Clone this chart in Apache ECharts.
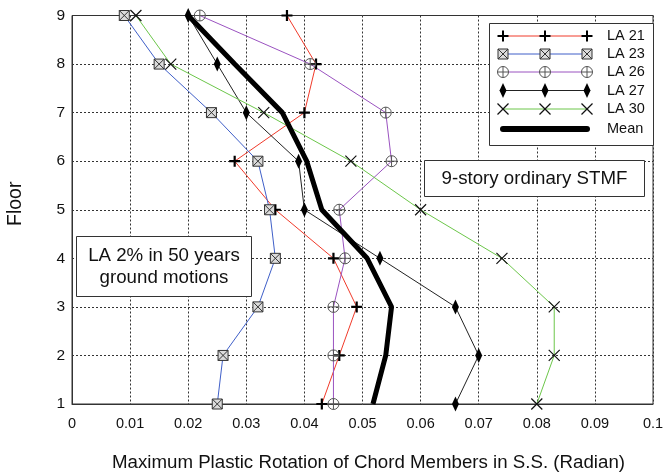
<!DOCTYPE html>
<html>
<head>
<meta charset="utf-8">
<script src="https://cdn.jsdelivr.net/npm/echarts@6/dist/echarts.min.js"></script>
<style>
  html, body { margin: 0; padding: 0; background: #fff; }
  #chart { width: 667px; height: 475px; }
</style>
</head>
<body>
<div id="chart"></div>
<script>
// Floor levels (y) and maximum plastic rotation per record (x, radian)
const floors = [1, 2, 3, 4, 5, 6, 7, 8, 9];
const la21 = [0.043, 0.046, 0.049, 0.045, 0.035, 0.028, 0.040, 0.042, 0.037];
const la23 = [0.025, 0.026, 0.032, 0.035, 0.034, 0.032, 0.024, 0.015, 0.009];
const la26 = [0.045, 0.045, 0.045, 0.047, 0.046, 0.055, 0.054, 0.041, 0.022];
const la27 = [0.066, 0.070, 0.066, 0.053, 0.040, 0.039, 0.030, 0.025, 0.020];
const la30 = [0.080, 0.083, 0.083, 0.074, 0.060, 0.048, 0.033, 0.017, 0.011];
const mean = [0.0518, 0.054, 0.055, 0.0508, 0.043, 0.0404, 0.0362, 0.028, 0.020];
const xTicks = ['0', '0.01', '0.02', '0.03', '0.04', '0.05', '0.06', '0.07', '0.08', '0.09', '0.1'];
const seriesNames = ['LA 21', 'LA 23', 'LA 26', 'LA 27', 'LA 30', 'Mean'];

const FONT = "'Liberation Sans', Arial, Helvetica, sans-serif";

// Marker glyphs
const SYM_PLUS = 'path://M4,0h2v4h4v2h-4v4h-2v-4h-4v-2h4z';
const SYM_BOXX = 'path://M0,0h10v10h-10zM0,0L10,10M10,0L0,10';
const SYM_CPLUS = 'path://M0,5A5,5 0 1 1 10,5A5,5 0 1 1 0,5ZM5,0V10M0,5H10';
const SYM_X = 'path://M0,0L10,10M10,0L0,10';

const styles = [
  { kind: 'plus', line: '#f03a2a', symbol: SYM_PLUS, size: 11, fill: '#000', stroke: '#000', bw: 0 },
  { kind: 'boxx', line: '#3f5fc8', symbol: SYM_BOXX, size: 10, fill: '#dcdcdc', stroke: '#333', bw: 1 },
  { kind: 'cplus', line: '#9a52c0', symbol: SYM_CPLUS, size: 11, fill: 'rgba(0,0,0,0)', stroke: '#555', bw: 1 },
  { kind: 'diamond', line: '#222', symbol: 'diamond', size: [7, 15], fill: '#000', stroke: '#000', bw: 0 },
  { kind: 'x', line: '#6cc64a', symbol: SYM_X, size: 11, fill: 'rgba(0,0,0,0)', stroke: '#111', bw: 1.2 }
];

const pairs = vals => vals.map((v, i) => [v, floors[i]]);
const records = [la21, la23, la26, la27, la30];

const series = records.map((vals, k) => ({
  name: seriesNames[k],
  type: 'line',
  data: pairs(vals),
  symbol: styles[k].symbol,
  symbolSize: styles[k].size,
  showSymbol: true,
  lineStyle: { color: styles[k].line, width: 1 },
  itemStyle: { color: styles[k].fill, borderColor: styles[k].stroke, borderWidth: styles[k].bw },
  emphasis: { disabled: true },
  animation: false
}));
series.push({
  name: seriesNames[5],
  type: 'line',
  data: pairs(mean),
  showSymbol: false,
  symbol: 'none',
  lineStyle: { color: '#000', width: 5 },
  emphasis: { disabled: true },
  animation: false
});

// Legend marker built from graphic primitives
function legendMarker(kind, cx, cy) {
  const s = 5;
  switch (kind) {
    case 'plus': return [
      { type: 'rect', shape: { x: cx - 5.5, y: cy - 1, width: 11, height: 2 }, style: { fill: '#000' } },
      { type: 'rect', shape: { x: cx - 1, y: cy - 5.5, width: 2, height: 11 }, style: { fill: '#000' } }
    ];
    case 'boxx': return [
      { type: 'rect', shape: { x: cx - s, y: cy - s, width: 2 * s, height: 2 * s }, style: { fill: '#dcdcdc', stroke: '#333', lineWidth: 1 } },
      { type: 'line', shape: { x1: cx - s, y1: cy - s, x2: cx + s, y2: cy + s }, style: { stroke: '#333', lineWidth: 1 } },
      { type: 'line', shape: { x1: cx + s, y1: cy - s, x2: cx - s, y2: cy + s }, style: { stroke: '#333', lineWidth: 1 } }
    ];
    case 'cplus': return [
      { type: 'circle', shape: { cx: cx, cy: cy, r: 5.5 }, style: { fill: '#fff', stroke: '#555', lineWidth: 1 } },
      { type: 'line', shape: { x1: cx - 5.5, y1: cy, x2: cx + 5.5, y2: cy }, style: { stroke: '#555', lineWidth: 1 } },
      { type: 'line', shape: { x1: cx, y1: cy - 5.5, x2: cx, y2: cy + 5.5 }, style: { stroke: '#555', lineWidth: 1 } }
    ];
    case 'diamond': return [
      { type: 'polygon', shape: { points: [[cx, cy - 7.5], [cx + 3.5, cy], [cx, cy + 7.5], [cx - 3.5, cy]] }, style: { fill: '#000' } }
    ];
    default: return [
      { type: 'line', shape: { x1: cx - 5.5, y1: cy - 5.5, x2: cx + 5.5, y2: cy + 5.5 }, style: { stroke: '#111', lineWidth: 1.2 } },
      { type: 'line', shape: { x1: cx + 5.5, y1: cy - 5.5, x2: cx - 5.5, y2: cy + 5.5 }, style: { stroke: '#111', lineWidth: 1.2 } }
    ];
  }
}

// Legend panel: sample line with three markers per entry
const lgX0 = 503, lgX1 = 587, lgRows = [36, 54, 72, 90.5, 109, 129];
const legendEls = [{
  type: 'rect', shape: { x: 489.5, y: 23.5, width: 164, height: 122 },
  style: { fill: '#fff', stroke: '#333', lineWidth: 1 }
}];
seriesNames.forEach((nm, k) => {
  const y = lgRows[k];
  if (k < 5) {
    const st = styles[k];
    legendEls.push({ type: 'line', shape: { x1: lgX0, y1: y, x2: lgX1, y2: y }, style: { stroke: st.line, lineWidth: 1 } });
    [lgX0, (lgX0 + lgX1) / 2, lgX1].forEach(cx => {
      legendMarker(st.kind, cx, y).forEach(el => legendEls.push(el));
    });
  } else {
    legendEls.push({ type: 'line', shape: { x1: lgX0, y1: y, x2: lgX1, y2: y }, style: { stroke: '#000', lineWidth: 6, lineCap: 'round' } });
  }
  legendEls.push({
    type: 'text', x: 607, y: y,
    style: { text: nm, fill: '#111', font: '14.5px ' + FONT, verticalAlign: 'middle' }
  });
});

// Annotation boxes
const noteEls = [
  { type: 'rect', shape: { x: 424.5, y: 160.5, width: 220, height: 36 }, style: { fill: '#fff', stroke: '#333', lineWidth: 1 } },
  { type: 'text', x: 534.5, y: 178.5, style: { text: '9-story ordinary STMF', fill: '#111', font: '18.7px ' + FONT, align: 'center', verticalAlign: 'middle' } },
  { type: 'rect', shape: { x: 76.5, y: 236.5, width: 175, height: 60 }, style: { fill: '#fff', stroke: '#333', lineWidth: 1 } },
  { type: 'text', x: 164, y: 267, style: { text: 'LA 2% in 50 years\nground motions', fill: '#111', font: '18.7px ' + FONT, align: 'center', verticalAlign: 'middle', lineHeight: 22 } }
];

// Keep overlays above grid lines and series
const lift = els => els.map((el, i) => Object.assign({ z: 100, z2: i }, el));

const chart = echarts.init(document.getElementById('chart'), null, { renderer: 'canvas' });
chart.setOption({
  backgroundColor: '#fff',
  animation: false,
  grid: {
    left: 72, top: 15.5, right: 14, bottom: 71,
    outerBoundsMode: 'none', containLabel: false,
    show: true, borderColor: '#333', borderWidth: 1, backgroundColor: 'rgba(0,0,0,0)'
  },
  xAxis: {
    type: 'value', min: 0, max: 0.1, interval: 0.01,
    name: 'Maximum Plastic Rotation of Chord Members in S.S. (Radian)',
    nameLocation: 'middle', nameGap: 49,
    nameTextStyle: { fontFamily: FONT, fontSize: 18.7, color: '#111', padding: [0, 0, 0, 12] },
    axisLine: { show: true, lineStyle: { color: '#333' } },
    axisTick: { show: false },
    axisLabel: { fontFamily: FONT, fontSize: 14.5, color: '#111', margin: 12,
      formatter: v => xTicks[Math.round(v * 100)] },
    splitLine: { show: true, lineStyle: { color: '#333', width: 1, type: [2, 2] } }
  },
  yAxis: {
    type: 'value', min: 1, max: 9, interval: 1,
    name: 'Floor', nameLocation: 'middle', nameGap: 46,
    nameTextStyle: { fontFamily: FONT, fontSize: 19.5, color: '#111', padding: [0, 0, 0, 12] },
    axisLine: { show: true, lineStyle: { color: '#333' } },
    axisTick: { show: false },
    axisLabel: { fontFamily: FONT, fontSize: 15.5, color: '#111', margin: 7 },
    splitLine: { show: true, lineStyle: { color: '#333', width: 1, type: [2, 2] } }
  },
  series: series,
  graphic: lift(noteEls).concat(lift(legendEls))
});
</script>
</body>
</html>
